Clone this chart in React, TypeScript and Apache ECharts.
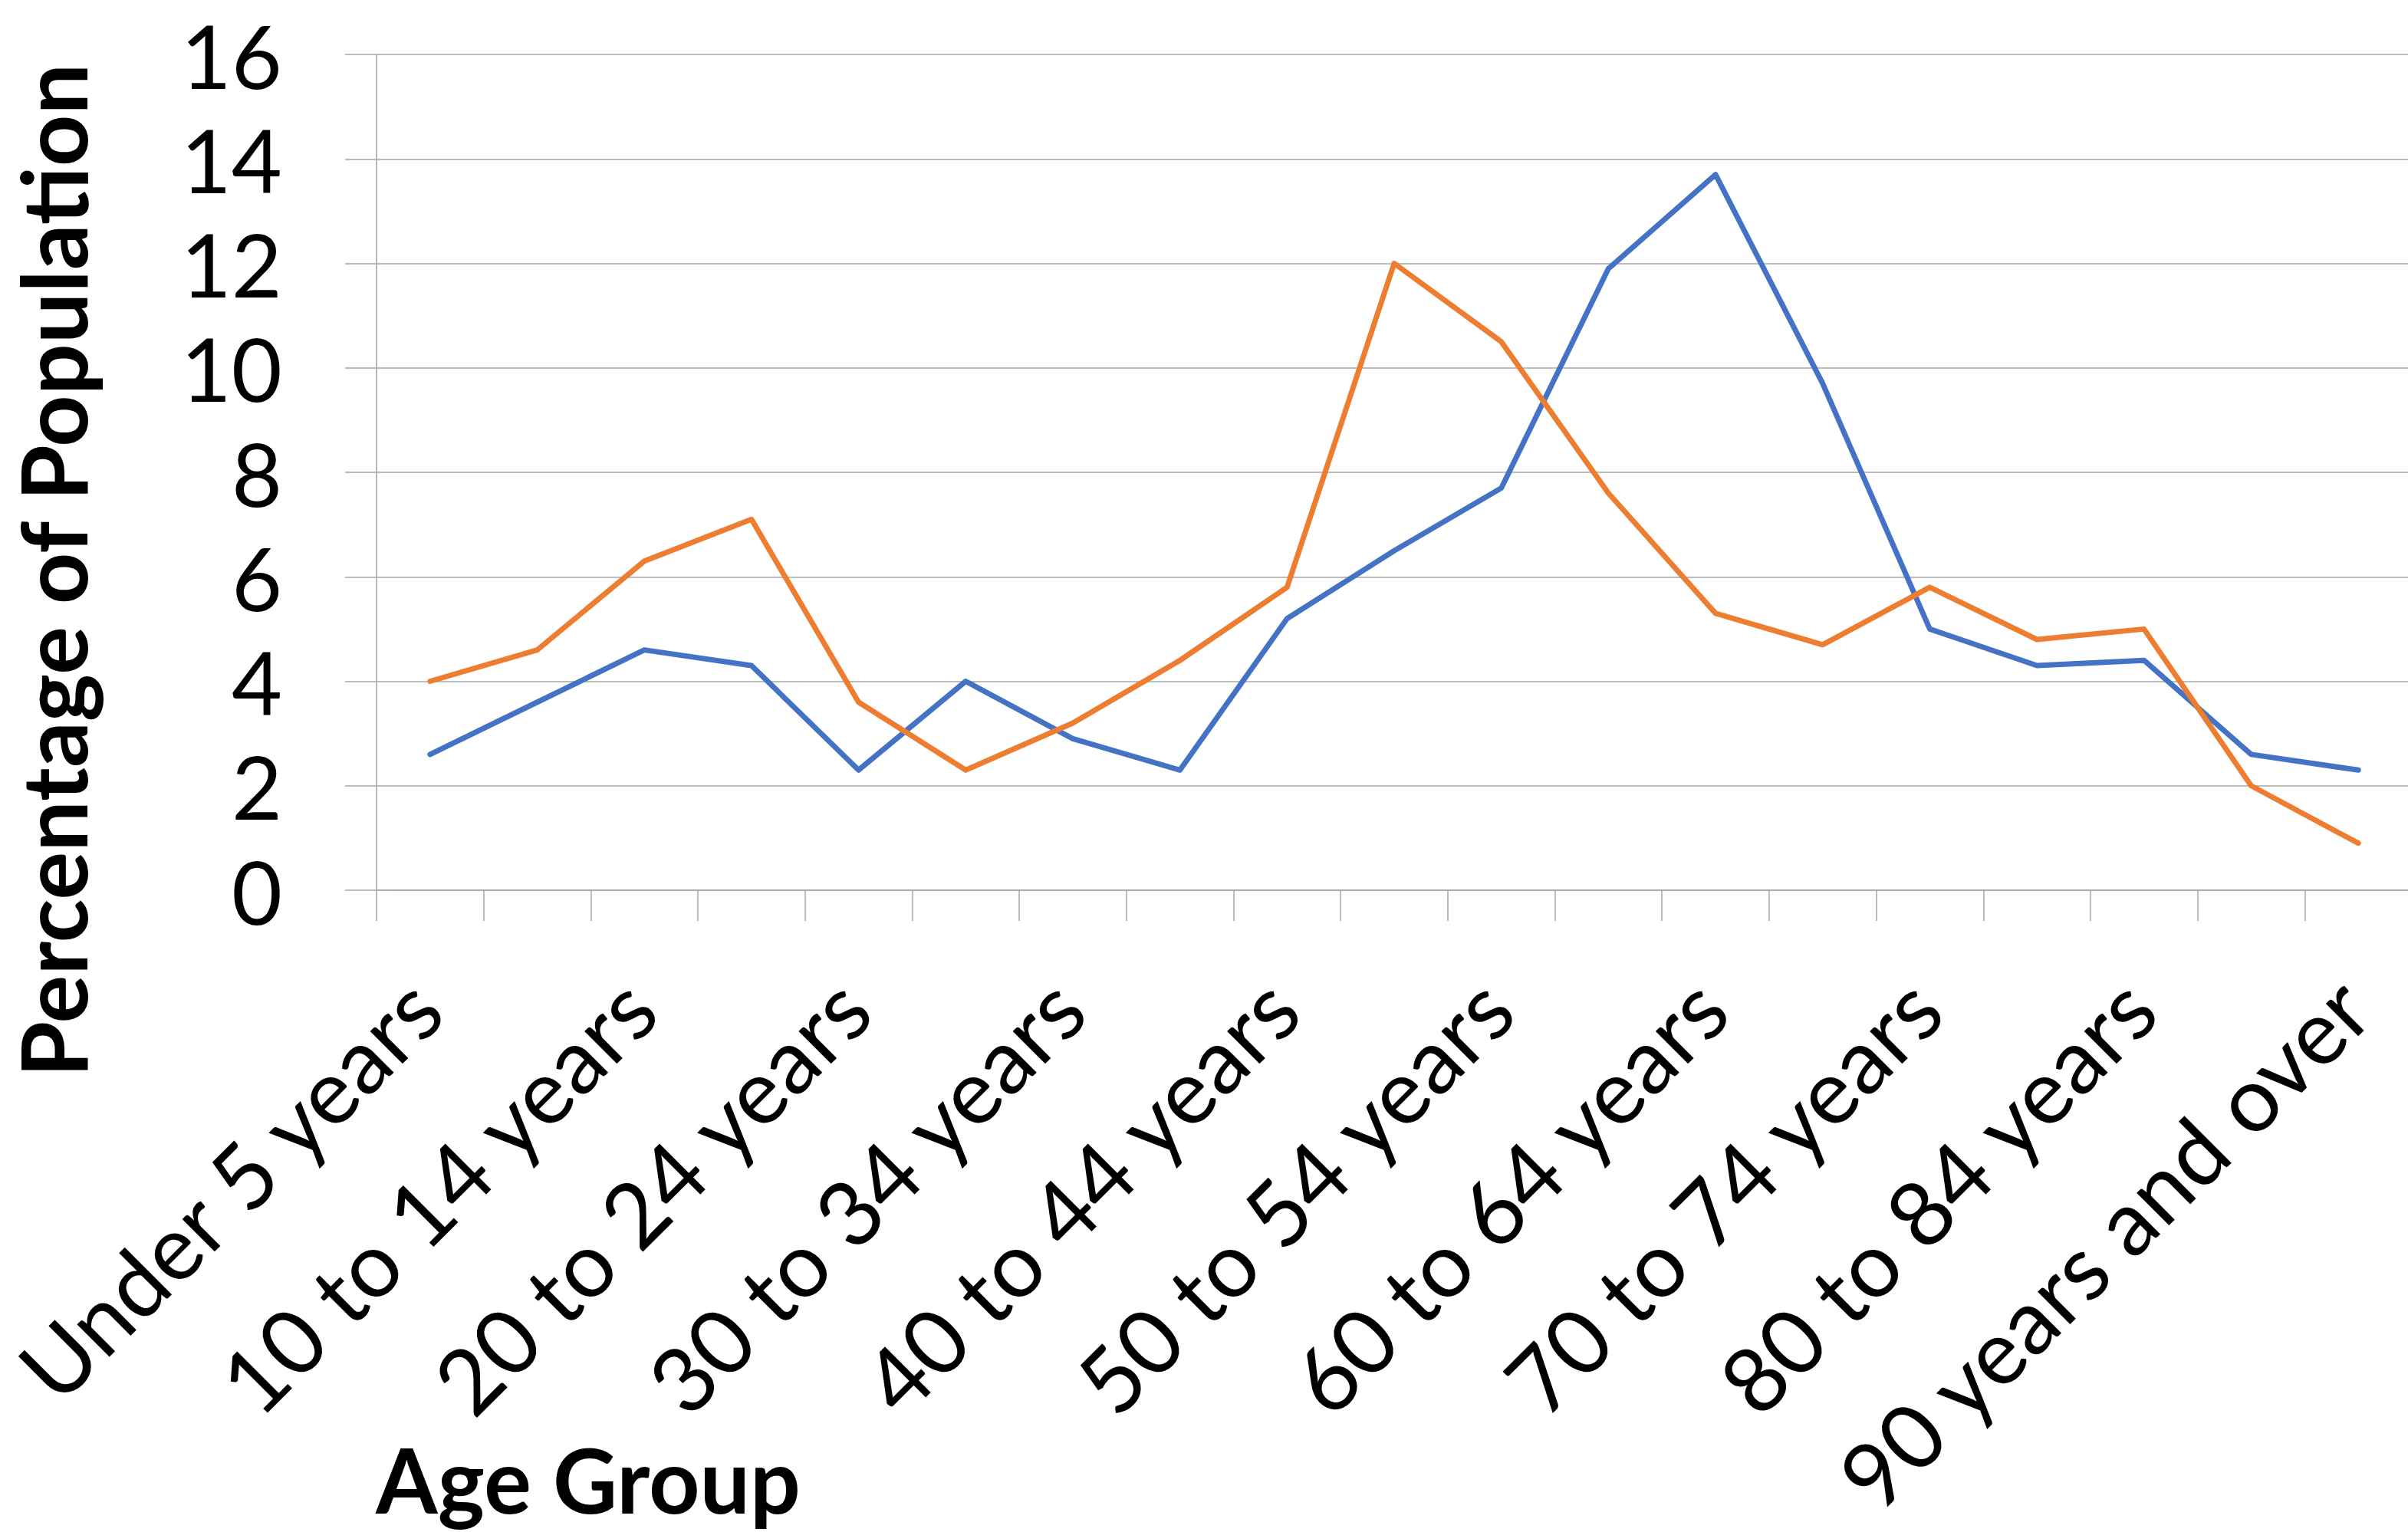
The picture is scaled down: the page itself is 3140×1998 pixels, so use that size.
import { useEffect, useRef } from "react";
import * as echarts from "echarts";

const categories = [
  "Under 5 years", "5 to 9 years", "10 to 14 years", "15 to 19 years", "20 to 24 years",
  "25 to 29 years", "30 to 34 years", "35 to 39 years", "40 to 44 years", "45 to 49 years",
  "50 to 54 years", "55 to 59 years", "60 to 64 years", "65 to 69 years", "70 to 74 years",
  "75 to 79 years", "80 to 84 years", "85 to 89 years", "90 years and over",
];
const series1Values = [2.6, 3.6, 4.6, 4.3, 2.3, 4.0, 2.9, 2.3, 5.2, 6.5, 7.7, 11.9, 13.7, 9.7, 5.0, 4.3, 4.4, 2.6, 2.3];
const series2Values = [4.0, 4.6, 6.3, 7.1, 3.6, 2.3, 3.2, 4.4, 5.8, 12.0, 10.5, 7.6, 5.3, 4.7, 5.8, 4.8, 5.0, 2.0, 0.9];
const yMin = 0;
const yMax = 16;
const yInterval = 2;
const xTitle = "Age Group";
const yTitle = "Percentage of Population";

const GRID = "#a6a6a6";
const FONT = "Lato";

export default function App() {
  const ref = useRef<HTMLDivElement>(null);
  useEffect(() => {
    if (!ref.current) return;
    const chart = echarts.init(ref.current, undefined, { renderer: "svg" });
    chart.setOption({
      animation: false,
      backgroundColor: "#ffffff",
      grid: {
        left: 491,
        top: 71,
        width: 2654,
        height: 1090,
        containLabel: false,
        outerBoundsMode: "none",
      },
      xAxis: {
        type: "category",
        data: categories,
        boundaryGap: true,
        axisLine: { show: true, lineStyle: { color: GRID, width: 1.5 } },
        axisTick: { show: true, interval: 0, length: 40, lineStyle: { color: GRID, width: 1.5 } },
        axisLabel: {
          interval: 1,
          rotate: 45,
          fontSize: 118,
          lineHeight: 100,
          fontFamily: FONT,
          color: "#000",
          margin: 126,
          padding: [0, 11, 0, 0],
        },
        splitLine: { show: false },
      },
      yAxis: {
        type: "value",
        min: yMin,
        max: yMax,
        interval: yInterval,
        axisLine: { show: true, lineStyle: { color: GRID, width: 1.5 } },
        axisTick: { show: true, length: 41, lineStyle: { color: GRID, width: 1.5 } },
        axisLabel: { fontSize: 114, fontFamily: FONT, color: "#000", margin: 123 },
        splitLine: { show: true, lineStyle: { color: GRID, width: 1.5 } },
      },
      graphic: [
        {
          type: "text",
          x: 68,
          y: 744,
          rotation: Math.PI / 2,
          style: {
            text: yTitle,
            font: `bold 118px ${FONT}`,
            lineHeight: 110,
            fill: "#000",
            align: "center",
            verticalAlign: "middle",
          },
        },
        {
          type: "text",
          x: 767,
          y: 1929,
          style: {
            text: xTitle,
            font: `bold 116px ${FONT}`,
            lineHeight: 116,
            fill: "#000",
            align: "center",
            verticalAlign: "middle",
          },
        },
      ],
      series: [
        {
          name: "Series1",
          type: "line",
          data: series1Values,
          symbol: "none",
          lineStyle: { color: "#4472C4", width: 7, join: "round", cap: "round" },
          itemStyle: { color: "#4472C4" },
        },
        {
          name: "Series2",
          type: "line",
          data: series2Values,
          symbol: "none",
          lineStyle: { color: "#ED7D31", width: 7, join: "round", cap: "round" },
          itemStyle: { color: "#ED7D31" },
        },
      ],
    });
    return () => chart.dispose();
  }, []);
  return (
    <div
      ref={ref}
      style={{ position: "absolute", left: 0, top: 0, width: 3140, height: 1998, background: "#fff" }}
    />
  );
}
